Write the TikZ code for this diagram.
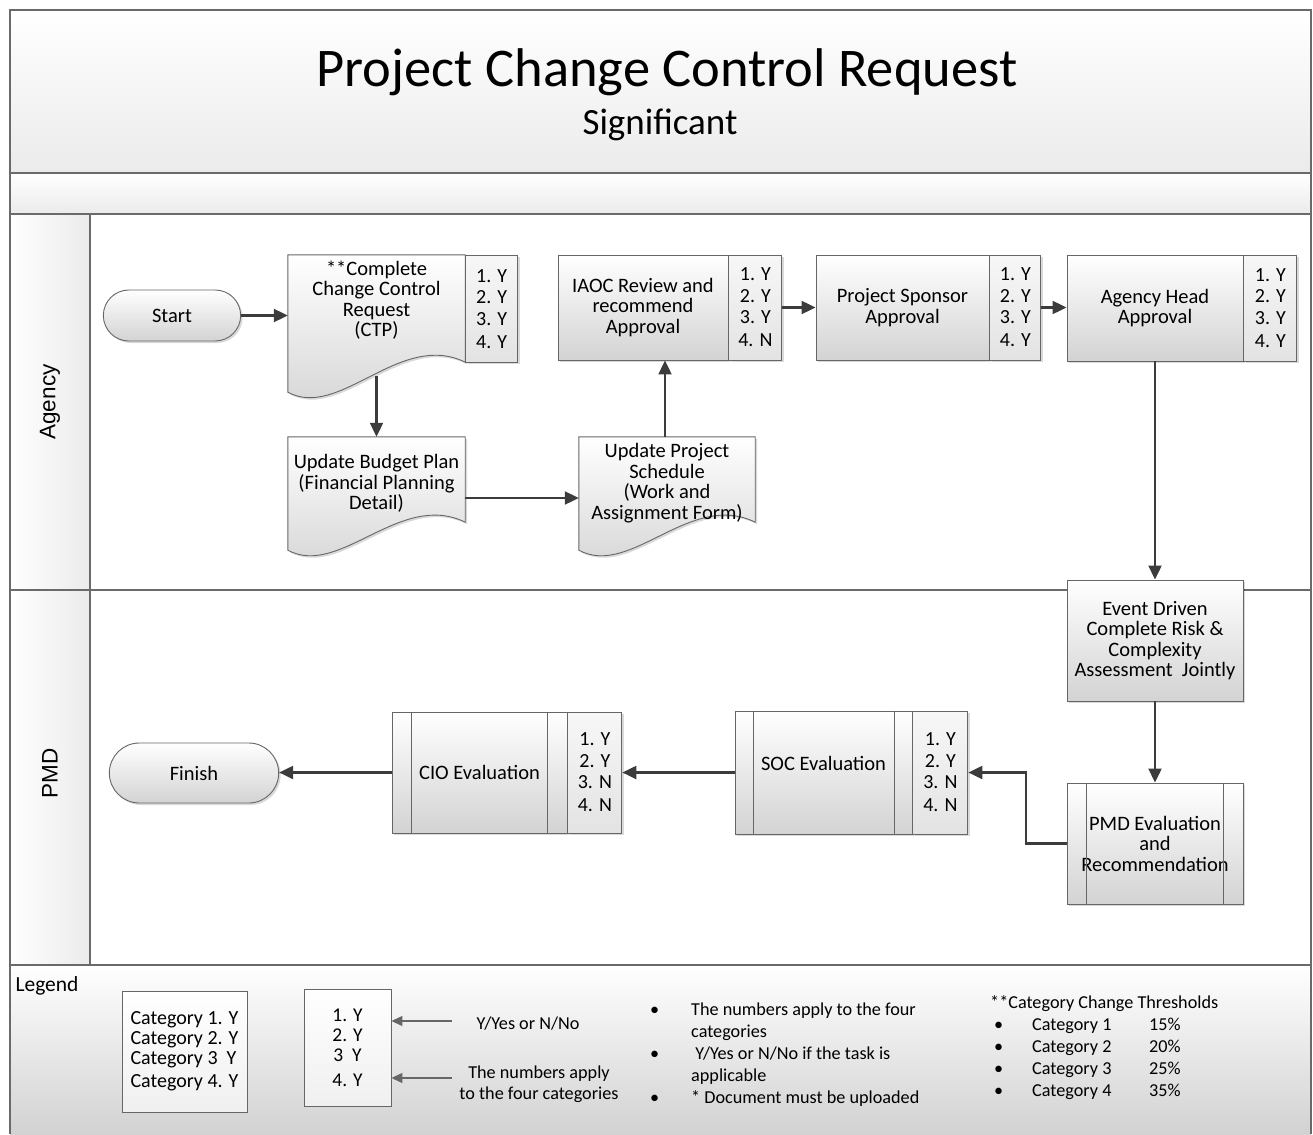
\documentclass[tikz,border=0pt]{standalone}
\usepackage{fontspec}
\setmainfont{Carlito}
\newfontfamily\lanefont{Liberation Sans}
\usetikzlibrary{arrows.meta,shapes.misc,shadows,calc}
\definecolor{edgec}{HTML}{666666}
\definecolor{framec}{HTML}{6A6A6A}
\definecolor{arrc}{HTML}{3C3C3C}
\definecolor{shbot}{HTML}{D3D3D3}
\definecolor{lbltop}{HTML}{F7F7F7}
\definecolor{lblbot}{HTML}{E3E3E3}
\definecolor{bandbot}{HTML}{EBEBEB}
\definecolor{legbot}{HTML}{D2D2D2}
\pgfdeclarelayer{bg}
\pgfdeclarelayer{shp}
\pgfsetlayers{bg,shp,main}
\newcommand\docoutline[3]{%
  \path[docshape] (#1.north west) -- (#1.north east) -- ($(#1.south east)+(0,#2)$)
   .. controls ($(#1.south east)+(-65,#2-32)$) and ($(#1.south west)+(52,#3+28)$) .. ($(#1.south west)+(0,#3)$) -- cycle;}
\begin{document}
\begin{tikzpicture}[x=1pt,y=-1pt,
  boxfont/.style={font=\fontsize{20.5}{20.5}\selectfont},
  shadowed/.style={drop shadow={shadow xshift=2pt,shadow yshift=-2pt,opacity=0.15,fill=black}},
  task/.style={rectangle,draw=edgec,line width=0.9pt,top color=white,bottom color=shbot,align=center,boxfont,inner sep=1pt,shadowed},
  lbl/.style={rectangle,draw=edgec,line width=0.9pt,top color=lbltop,bottom color=lblbot,align=center,font=\fontsize{20}{21.5}\selectfont,anchor=north west,inner sep=1pt,shadowed},
  term/.style={rounded rectangle,draw=edgec,line width=0.9pt,top color=white,bottom color=shbot,boxfont,shadowed},
  docnode/.style={rectangle,align=center,boxfont,inner sep=0pt},
  docshape/.style={draw=edgec,line width=0.9pt,top color=white,bottom color=shbot,shadowed},
  procline/.style={draw=edgec,line width=0.9pt},
  flow/.style={draw=arrc,line width=2.1pt,-{Triangle[length=14pt,width=13pt]}},
  legflow/.style={draw=gray!80!black,line width=1.2pt,-{Triangle[length=11pt,width=10pt]}},
  frameline/.style={draw=framec,line width=1.3pt},
  legtext/.style={font=\fontsize{18.2}{22}\selectfont},
  legbox/.style={draw=edgec,line width=0.9pt,top color=white,bottom color=white!94!black},
  lanelabel/.style={font=\lanefont\fontsize{22.5}{24}\selectfont,rotate=90}
]
\useasboundingbox (0,0) rectangle (1313,1134);

% ---------- frame and lanes ----------
\begin{pgfonlayer}{bg}
  \shade[top color=white,bottom color=bandbot] (10,10) rectangle (1311,173);
  \shade[top color=white,bottom color=bandbot] (10,173) rectangle (1311,214);
  \shade[left color=white,right color=bandbot] (10,214) rectangle (90,965);
  \shade[top color=white,bottom color=legbot] (10,965) rectangle (1311,1134);
  \draw[frameline] (10,1134) -- (10,10) -- (1311,10) -- (1311,1134);
  \draw[frameline] (10,173) -- (1311,173);
  \draw[frameline] (10,214) -- (1311,214);
  \draw[frameline] (10,590) -- (1311,590);
  \draw[frameline] (10,965) -- (1311,965);
  \draw[frameline] (90,214) -- (90,965);
\end{pgfonlayer}

% ---------- title ----------
\node[font=\fontsize{54.5}{58}\selectfont] (title) at (667,72) {Project Change Control Request};
\node[font=\fontsize{37}{40}\selectfont] (subtitle) at (660,125) {Significant};

\node[lanelabel] (agency) at (50,402) {Agency};
\node[lanelabel] (pmd) at (50,773) {PMD};

% ---------- Agency lane ----------
\node[term,minimum width=144pt,minimum height=51pt] (start) at (172,315.5) {Start};

\node[docnode,minimum width=177pt,minimum height=90pt] (ctp) at (376.5,300) {**Complete\\Change Control\\Request\\(CTP)};
\node[lbl,minimum width=52pt,minimum height=107pt] (ctpl) at (ctp.north east) {1. Y\\2. Y\\3. Y\\[1.5pt]4. Y};

\node[docnode,minimum width=177pt,minimum height=93pt] (budget) at (376.5,483.5) {Update Budget Plan\\(Financial Planning\\Detail)};
\node[docnode,minimum width=176pt,minimum height=92pt] (sched) at (667,483) {Update Project\\Schedule\\(Work and\\Assignment Form)};

\begin{pgfonlayer}{shp}
  \docoutline{ctp}{17}{47}
  \docoutline{budget}{-8}{20}
  \docoutline{sched}{-7}{21}
\end{pgfonlayer}

\node[task,minimum width=170pt,minimum height=105pt] (iaoc) at (643,307.5) {IAOC Review and\\recommend\\Approval};
\node[lbl,minimum width=53pt,minimum height=105pt] (iaocl) at (iaoc.north east) {1. Y\\2. Y\\3. Y\\[1.5pt]4. N};

\node[task,minimum width=173pt,minimum height=105pt] (sponsor) at (902.5,307.5) {Project Sponsor\\Approval};
\node[lbl,minimum width=51pt,minimum height=105pt] (sponsorl) at (sponsor.north east) {1. Y\\2. Y\\3. Y\\[1.5pt]4. Y};

\node[task,minimum width=176pt,minimum height=106pt] (head) at (1155,308) {Agency Head\\Approval};
\node[lbl,minimum width=53pt,minimum height=106pt] (headl) at (head.north east) {1. Y\\2. Y\\3. Y\\[1.5pt]4. Y};

% ---------- PMD lane ----------
\node[task,minimum width=176pt,minimum height=121pt] (event) at (1155,640.5) {Event Driven\\Complete Risk \&\\Complexity\\Assessment~~Jointly};

\node[task,minimum width=176pt,minimum height=121pt] (pmdeval) at (1155,843.5) {PMD Evaluation\\and\\Recommendation};
\draw[procline] ([xshift=20pt]pmdeval.north west) -- ([xshift=20pt]pmdeval.south west);
\draw[procline] ([xshift=-20pt]pmdeval.north east) -- ([xshift=-20pt]pmdeval.south east);

\node[task,minimum width=177pt,minimum height=123pt] (soc) at (823.5,772.5) {SOC Evaluation\\[-2pt]\mbox{}};
\draw[procline] ([xshift=19pt]soc.north west) -- ([xshift=19pt]soc.south west);
\draw[procline] ([xshift=-18pt]soc.north east) -- ([xshift=-18pt]soc.south east);
\node[lbl,minimum width=55pt,minimum height=123pt] (socl) at (soc.north east) {1. Y\\2. Y\\3. N\\[1.5pt]4. N};

\node[task,minimum width=175pt,minimum height=121pt] (cio) at (479.5,772.5) {CIO Evaluation};
\draw[procline] ([xshift=20pt]cio.north west) -- ([xshift=20pt]cio.south west);
\draw[procline] ([xshift=-20pt]cio.north east) -- ([xshift=-20pt]cio.south east);
\node[lbl,minimum width=54pt,minimum height=121pt] (ciol) at (cio.north east) {1. Y\\2. Y\\3. N\\[1.5pt]4. N};

\node[term,minimum width=176pt,minimum height=60pt] (finish) at (194,773) {Finish};

% ---------- connectors ----------
\draw[flow] (start.east) -- (start.east -| ctp.west);
\draw[flow] ($(ctp.south)+(0,31)$) -- (budget.north);
\draw[flow] ($(budget.east)+(0,14.5)$) -- ($(sched.west)+(0,15)$);
\draw[flow] ($(sched.north)+(-2,0)$) -- ($(sched.north |- iaoc.south)+(-2,0)$);
\draw[flow] (iaocl.east) -- (sponsor.west);
\draw[flow] (sponsorl.east) -- (sponsorl.east -| head.west);
\draw[flow] (head.south) -- (event.north);
\draw[flow] (event.south) -- (pmdeval.north);
\draw[flow] (pmdeval.west) -- ++(-41,0) |- (socl.east);
\draw[flow] (soc.west) -- (soc.west -| ciol.east);
\draw[flow] (cio.west) -- (cio.west -| finish.east);

% ---------- legend ----------
\node[anchor=west,font=\fontsize{21.5}{22}\selectfont] (legend) at (12,986) {Legend};
\node[legbox,minimum width=125pt,minimum height=121pt,align=left,font=\fontsize{20}{20}\selectfont,inner sep=0pt] (cats) at (184.5,1051.5) {Category 1. Y\\Category 2. Y\\Category 3~~Y\\[3pt]Category 4. Y};
\node[legbox,minimum width=87pt,minimum height=117pt,align=center,font=\fontsize{19.5}{20}\selectfont] (nums) at (347.5,1047.5) {1. Y\\2. Y\\3~~Y\\[5pt]4. Y};
\node[legtext] (yesno) at (528,1024) {Y/Yes or N/No};
\node[legtext,align=center,font=\fontsize{18.2}{21.5}\selectfont] (applies) at (539,1084) {The numbers apply\\to the four categories};
\coordinate (t1) at (452,1021);
\coordinate (t2) at (452,1078);
\draw[legflow] (t1) -- (t1 -| nums.east);
\draw[legflow] (t2) -- (t2 -| nums.east);

\node[anchor=west,legtext,inner sep=0pt] (notes) at (650,1055) {\begin{tabular}{@{}p{41pt}@{}l@{}}
\textbullet & The numbers apply to the four\\
 & categories\\
\textbullet & ~Y/Yes or N/No if the task is\\
 & applicable\\
\textbullet & * Document must be uploaded
\end{tabular}};

\node[anchor=west,legtext,inner sep=0pt] (thresh) at (990,1048) {\begin{tabular}{@{}p{42pt}@{}p{117pt}@{}l@{}}
\multicolumn{3}{@{}l@{}}{**Category Change Thresholds}\\
\hspace{4pt}\textbullet & Category 1 & 15\%\\
\hspace{4pt}\textbullet & Category 2 & 20\%\\
\hspace{4pt}\textbullet & Category 3 & 25\%\\
\hspace{4pt}\textbullet & Category 4 & 35\%
\end{tabular}};
\end{tikzpicture}
\end{document}
